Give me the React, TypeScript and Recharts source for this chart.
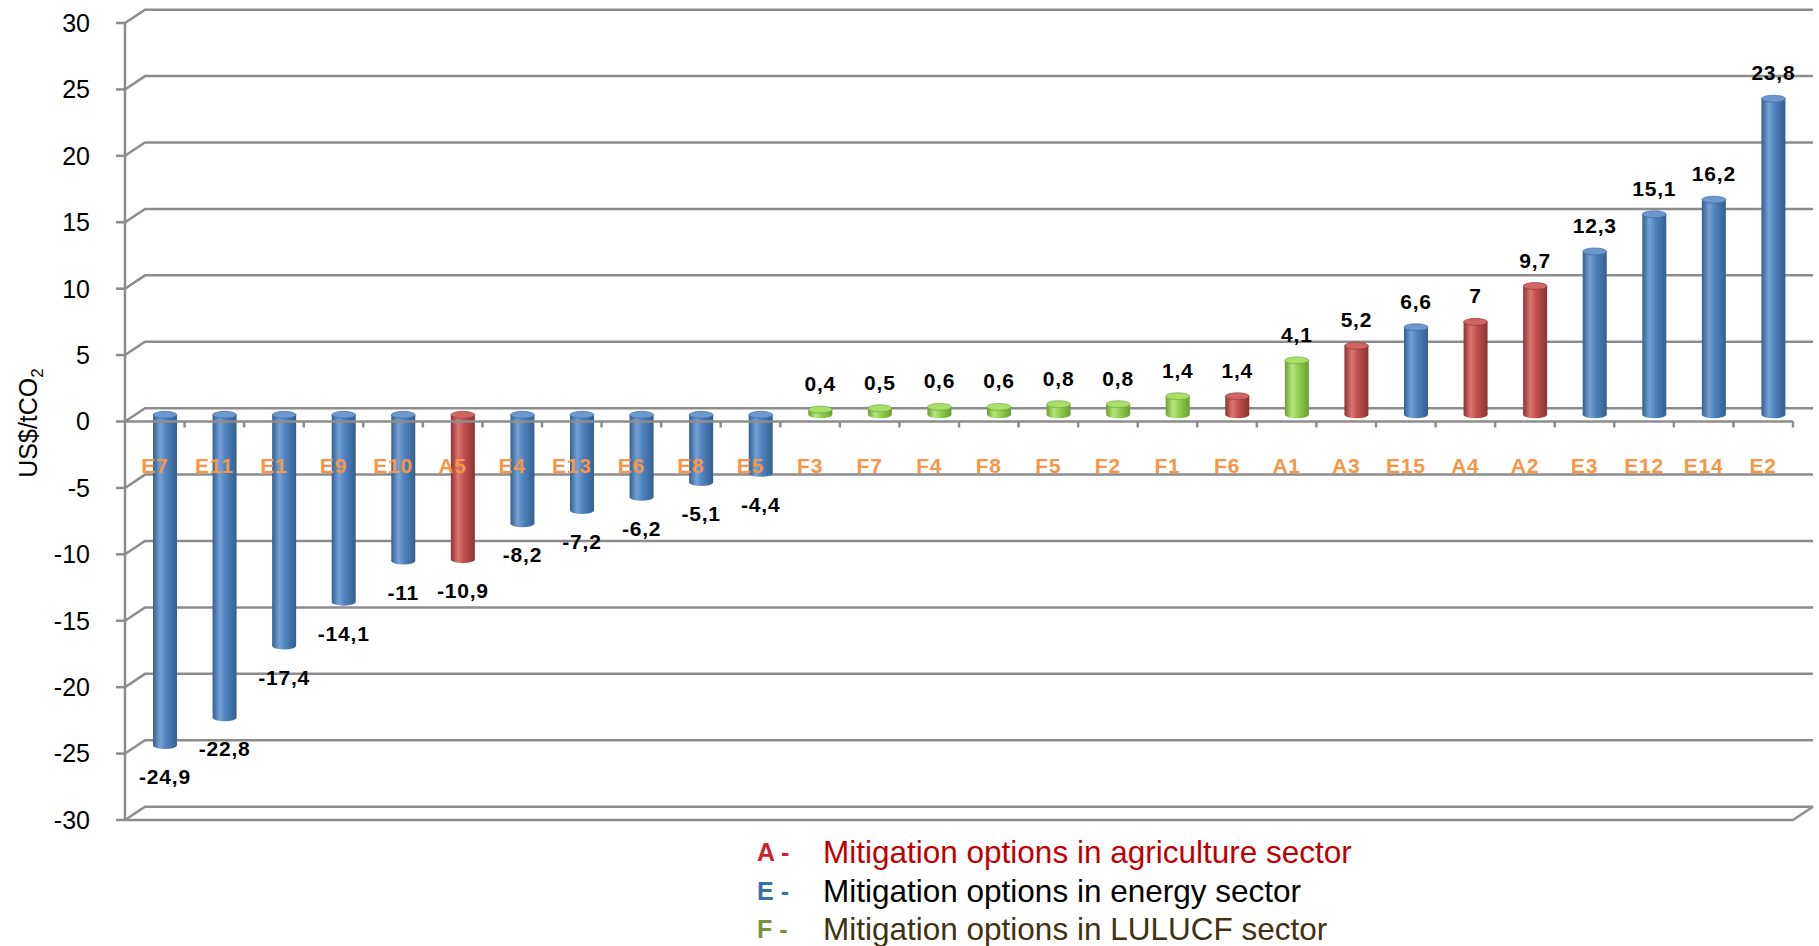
import { BarChart, Bar, XAxis, YAxis, CartesianGrid, LabelList, ReferenceLine } from 'recharts';

const categories = ['E7', 'E11', 'E1', 'E9', 'E10', 'A5', 'E4', 'E13', 'E6', 'E8', 'E5', 'F3', 'F7', 'F4', 'F8', 'F5', 'F2', 'F1', 'F6', 'A1', 'A3', 'E15', 'A4', 'A2', 'E3', 'E12', 'E14', 'E2'];
const costs = [-24.9, -22.8, -17.4, -14.1, -11, -10.9, -8.2, -7.2, -6.2, -5.1, -4.4, 0.4, 0.5, 0.6, 0.6, 0.8, 0.8, 1.4, 1.4, 4.1, 5.2, 6.6, 7, 9.7, 12.3, 15.1, 16.2, 23.8];
// colour group each bar is drawn with in the picture
const barGroup = ['E', 'E', 'E', 'E', 'E', 'A', 'E', 'E', 'E', 'E', 'E', 'F', 'F', 'F', 'F', 'F', 'F', 'F', 'A', 'F', 'A', 'E', 'A', 'A', 'E', 'E', 'E', 'E'];
const yTicks = [-30, -25, -20, -15, -10, -5, 0, 5, 10, 15, 20, 25, 30];
const legendCodes = ['A', 'E', 'F'];
const legendTexts = [
  'Mitigation options in agriculture sector',
  'Mitigation options in energy sector',
  'Mitigation options in LULUCF sector',
];

const data = categories.map((name, i) => ({ name, cost: costs[i], group: barGroup[i] }));

const W = 1819;
const H = 946;
const PLOT_TOP = 23;
const PLOT_BOTTOM = 820;
const PLOT_LEFT = 125;
const PLOT_RIGHT = 1793;
const ZERO_FRONT = (PLOT_TOP + PLOT_BOTTOM) / 2;
const DX = 20;
const DY = 13.3;
const GRID = '#8c8c8c';
const FONT = '"Liberation Sans", Arial, sans-serif';

const palette: { [k: string]: { light: string; base: string; dark: string; cap: string } } = {
  A: { light: '#dc7572', base: '#c0504d', dark: '#8c3330', cap: '#d06663' },
  E: { light: '#75a1d6', base: '#4f81bd', dark: '#33608f', cap: '#6d98cf' },
  F: { light: '#b5e57c', base: '#92d050', dark: '#6a9e33', cap: '#a8de6a' },
};

const legendColors: { [k: string]: { code: string; text: string } } = {
  A: { code: '#d0202c', text: '#c00000' },
  E: { code: '#3f6cae', text: '#000000' },
  F: { code: '#76923c', text: '#3f3112' },
};

const GridLine = (props: any) => {
  const { x1, y1, x2, index } = props;
  let d = `M${x1},${y1} L${x1 + DX},${y1 - DY} L${x2 + DX},${y1 - DY}`;
  if (Math.abs(y1 - PLOT_BOTTOM) < 1) d += ` M${x2},${y1} L${x2 + DX},${y1 - DY}`;
  return <path key={`grid-${index}`} d={d} fill="none" stroke={GRID} strokeWidth={2.5} />;
};

const Cylinder = (props: any) => {
  const { x, y, width, height, payload } = props;
  const g = payload.group;
  const top = Math.min(y, y + height) - DY / 2;
  const bottom = Math.max(y, y + height) - DY / 2;
  const left = x + DX / 2;
  const rx = width / 2;
  const ry = 3.5;
  const cx = left + rx;
  return (
    <g>
      <rect x={left} y={top} width={width} height={bottom - top} fill={`url(#body-${g})`} />
      <ellipse cx={cx} cy={bottom} rx={rx} ry={ry} fill={`url(#body-${g})`} />
      <ellipse cx={cx} cy={top} rx={rx} ry={ry} fill={palette[g].cap} stroke={palette[g].dark} strokeWidth={0.6} />
    </g>
  );
};

const ValueLabel = (props: any) => {
  const { x, y, width, height, value } = props;
  const cx = Number(x) + Number(width) / 2 + DX / 2;
  const top = Math.min(Number(y), Number(y) + Number(height)) - DY / 2;
  const bottom = Math.max(Number(y), Number(y) + Number(height)) - DY / 2;
  const ty = value >= 0 ? top - 26 : bottom + 31;
  return (
    <text x={cx} y={ty} dy="0.36em" textAnchor="middle" fill="#000" fontSize={21} fontWeight="bold" fontFamily={FONT} letterSpacing={0.8}>
      {String(value).replace('.', ',')}
    </text>
  );
};

const CategoryTick = (props: any) => {
  const { x, payload } = props;
  const band = (PLOT_RIGHT - PLOT_LEFT) / categories.length;
  return (
    <g>
      <line x1={x + band / 2} x2={x + band / 2} y1={ZERO_FRONT} y2={ZERO_FRONT + 6} stroke={GRID} strokeWidth={2.5} />
      <text x={x} y={465} dy="0.36em" textAnchor="middle" fill="#f79646" fontSize={21} fontWeight="bold" fontFamily={FONT} letterSpacing={0.8}>
        {payload.value}
      </text>
    </g>
  );
};

const YLabel = () => (
  <text transform="translate(37,423) rotate(-90)" textAnchor="middle" fill="#000" fontSize={25} fontFamily={FONT}>
    US$/tCO
    <tspan dy={6} fontSize={17}>2</tspan>
  </text>
);

export default function App() {
  return (
    <div style={{ position: 'absolute', left: 0, top: 0, width: W, height: H, background: '#fff' }}>
      <BarChart
        width={W}
        height={H}
        data={data}
        margin={{ top: PLOT_TOP, right: W - PLOT_RIGHT, bottom: H - PLOT_BOTTOM - 1, left: PLOT_LEFT - 100 }}
        barSize={24}
      >
        <defs>
          {Object.keys(palette).map((k) => (
            <linearGradient key={k} id={`body-${k}`} x1="0" y1="0" x2="1" y2="0">
              <stop offset="0%" stopColor={palette[k].dark} />
              <stop offset="30%" stopColor={palette[k].light} />
              <stop offset="55%" stopColor={palette[k].base} />
              <stop offset="100%" stopColor={palette[k].dark} />
            </linearGradient>
          ))}
        </defs>
        <CartesianGrid vertical={false} horizontal={GridLine} />
        <XAxis
          dataKey="name"
          height={1}
          interval={0}
          tickLine={false}
          axisLine={{ stroke: GRID, strokeWidth: 2.5 }}
          tick={CategoryTick}
        />
        <YAxis
          domain={[-30, 30]}
          ticks={yTicks}
          interval={0}
          width={100}
          tickSize={9}
          tickMargin={26}
          tick={{ fill: '#000', fontSize: 25, fontFamily: FONT }}
          axisLine={{ stroke: GRID, strokeWidth: 2.5 }}
          tickLine={{ stroke: GRID, strokeWidth: 2.5 }}
          label={<YLabel />}
        />
        <ReferenceLine y={0} stroke={GRID} strokeWidth={2.5} />
        <Bar dataKey="cost" isAnimationActive={false} shape={Cylinder}>
          <LabelList dataKey="cost" content={ValueLabel} />
        </Bar>
      </BarChart>
      <div style={{ position: 'absolute', left: 757, top: 833, fontFamily: FONT }}>
        {legendCodes.map((c, i) => (
          <div key={c} style={{ display: 'flex', height: 38.5, lineHeight: '38.5px', whiteSpace: 'nowrap' }}>
            <span style={{ width: 66, fontSize: 25, fontWeight: 'bold', color: legendColors[c].code }}>
              {c} -
            </span>
            <span style={{ fontSize: 31.5, color: legendColors[c].text }}>{legendTexts[i]}</span>
          </div>
        ))}
      </div>
    </div>
  );
}
